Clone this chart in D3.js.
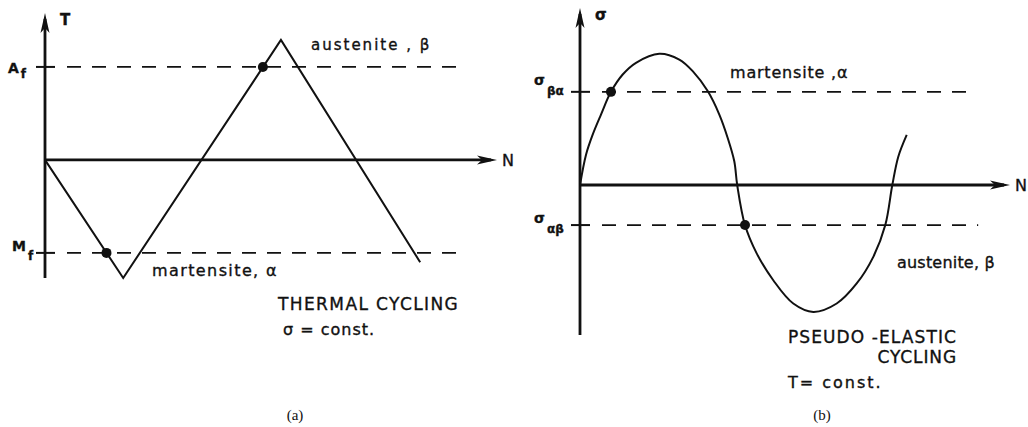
<!DOCTYPE html>
<html>
<head>
<meta charset="utf-8">
<script src="https://cdn.jsdelivr.net/npm/d3@7"></script>
<style>
  html, body { margin: 0; padding: 0; background: #fff; }
  svg { display: block; }
  .lbl { font-family: "DejaVu Sans", sans-serif; fill: #111; stroke: #111; stroke-width: 0.35px; }
  .cap { font-family: "Liberation Serif", serif; fill: #111; font-size: 15px; }
</style>
</head>
<body>
<div id="chart"></div>
<script>
// ---- (a) thermal cycling: temperature vs. number of cycles ----
const thermalN = [0, 1.73, 5.22, 8.3];
const thermalT = [0, -1.27, 1.29, -1.1];
const thermalLevelNames = ["A", "M"];
const thermalLevelSubs = ["f", "f"];
const thermalLevelValues = [1, -1];
const thermalLevelEnds = [9.28, 9.25];
const thermalDotsN = [1.36, 4.82];
const thermalDotsT = [-1, 1];

// ---- (b) pseudo-elastic cycling: stress vs. number of cycles ----
const stressN = [0, 0.14, 0.295, 0.488, 0.72, 0.993, 1.302, 1.844, 2.309, 2.621, 2.97, 3.24, 3.435,
                 3.588, 3.656, 3.837, 4.109, 4.495, 4.96, 5.426, 5.97, 6.435, 6.821, 7.1, 7.263, 7.402, 7.598];
const stressS = [0, 0.326, 0.541, 0.756, 1.0, 1.186, 1.312, 1.409, 1.347, 1.223, 1.008, 0.756, 0.505,
                 0.255, 0, -0.43, -0.734, -1.022, -1.272, -1.362, -1.272, -1.057, -0.771, -0.43, 0, 0.304, 0.538];
const stressLevelNames = ["σ", "σ"];
const stressLevelSubs = ["βα", "αβ"];
const stressLevelValues = [1, -0.43];
const stressLevelEnds = [9.07, 9.26];
const stressDotsN = [0.72, 3.837];
const stressDotsS = [1, -0.43];

const W = 1028, H = 427;
const svg = d3.select("#chart").append("svg").attr("width", W).attr("height", H);
const ink = "#111";

function arrow(g, x1, y1, x2, y2) {
  // filled narrow arrowhead at (x2, y2)
  const len = 20, hw = 4.5;
  const a = Math.atan2(y2 - y1, x2 - x1);
  const bx = x2 - len * Math.cos(a), by = y2 - len * Math.sin(a);
  const px = -Math.sin(a) * hw, py = Math.cos(a) * hw;
  g.append("path")
    .attr("d", `M${x2},${y2}L${bx + px},${by + py}L${bx + len * 0.25 * Math.cos(a)},${by + len * 0.25 * Math.sin(a)}L${bx - px},${by - py}Z`)
    .attr("fill", ink);
}

function panel(opt) {
  const g = svg.append("g");
  const x = d3.scaleLinear().domain([0, 10]).range(opt.xRange);
  const y = d3.scaleLinear().domain(opt.yDomain).range(opt.yRange);

  // vertical axis with arrow
  g.append("line").attr("x1", x(0)).attr("x2", x(0))
    .attr("y1", y(opt.yDomain[0])).attr("y2", y(opt.yDomain[1]) + 6)
    .attr("stroke", ink).attr("stroke-width", 2.8);
  arrow(g, x(0), y(0), x(0), y(opt.yDomain[1]));

  // horizontal axis with arrow
  g.append("line").attr("x1", x(0)).attr("x2", x(10) - 6)
    .attr("y1", y(0)).attr("y2", y(0))
    .attr("stroke", ink).attr("stroke-width", 2.8);
  arrow(g, x(0), y(0), x(10), y(0));

  // axis titles
  g.append("text").attr("class", "lbl").attr("x", x(0) + 15).attr("y", y(opt.yDomain[1]) + 12)
    .attr("font-size", 15).attr("font-weight", "bold").text(opt.yTitle);
  g.append("text").attr("class", "lbl").attr("x", x(10) + 5).attr("y", y(0) + 6)
    .attr("font-size", 16).text("N");

  // transformation levels: tick on the axis and dashed line
  opt.levelValues.forEach((v, i) => {
    const lay = opt.levelLayout[i];
    g.append("line").attr("x1", x(0) - 9).attr("x2", x(0) + 10)
      .attr("y1", y(v)).attr("y2", y(v))
      .attr("stroke", ink).attr("stroke-width", 2);
    g.append("line").attr("x1", x(0) + 22).attr("x2", x(opt.levelEnds[i]))
      .attr("y1", y(v)).attr("y2", y(v))
      .attr("stroke", ink).attr("stroke-width", 1.8)
      .attr("stroke-dasharray", "14,11");
    const t = g.append("text").attr("class", "lbl")
      .attr("x", x(0) - lay.off).attr("y", y(v) + lay.dy)
      .attr("font-size", 14).attr("font-weight", "bold");
    t.append("tspan").text(opt.levelNames[i]);
    t.append("tspan").attr("dy", lay.subDy).attr("dx", 2).attr("font-size", 12).text(opt.levelSubs[i]);
  });

  // cycling path
  g.append("path")
    .datum(opt.xs.map((v, i) => [v, opt.ys[i]]))
    .attr("fill", "none").attr("stroke", ink).attr("stroke-width", 2)
    .attr("stroke-linejoin", "miter")
    .attr("d", d3.line().x(d => x(d[0])).y(d => y(d[1])).curve(opt.curve));

  // transformation points
  g.selectAll("circle.dot").data(opt.dotsX.map((v, i) => [v, opt.dotsY[i]]))
    .join("circle").attr("class", "dot")
    .attr("cx", d => x(d[0])).attr("cy", d => y(d[1])).attr("r", 5).attr("fill", ink);

  // annotations
  opt.notes.forEach(n => {
    g.append("text").attr("class", "lbl")
      .attr("x", n.x).attr("y", n.y).attr("font-size", n.size)
      .attr("letter-spacing", n.ls).attr("text-anchor", n.anchor || "start")
      .text(n.text);
  });
  g.append("text").attr("class", "cap").attr("x", opt.capX).attr("y", 420)
    .attr("text-anchor", "middle").text(opt.caption);
}

panel({
  xRange: [45, 497], yDomain: [-1.27, 1.58], yRange: [278, 13],
  yTitle: "T",
  levelNames: thermalLevelNames, levelSubs: thermalLevelSubs,
  levelValues: thermalLevelValues, levelEnds: thermalLevelEnds,
  levelLayout: [{ off: 37, dy: 6, subDy: 5 }, { off: 33, dy: -2, subDy: 9 }],
  xs: thermalN, ys: thermalT, curve: d3.curveLinear,
  dotsX: thermalDotsN, dotsY: thermalDotsT,
  notes: [
    { text: "austenite , β", x: 311, y: 50, size: 15, ls: 2.0 },
    { text: "martensite, α", x: 152, y: 276, size: 16, ls: 1.4 },
    { text: "THERMAL CYCLING", x: 278, y: 310, size: 17, ls: 1.4 },
    { text: "σ = const.", x: 283, y: 335, size: 16, ls: 1.0 }
  ],
  capX: 295, caption: "(a)"
});

panel({
  xRange: [580, 1010], yDomain: [-1.61, 1.90], yRange: [335, 8],
  yTitle: "σ",
  levelNames: stressLevelNames, levelSubs: stressLevelSubs,
  levelValues: stressLevelValues, levelEnds: stressLevelEnds,
  levelLayout: [{ off: 46, dy: -7, subDy: 10 }, { off: 46, dy: -2, subDy: 10 }],
  xs: stressN, ys: stressS, curve: d3.curveCatmullRom.alpha(0.5),
  dotsX: stressDotsN, dotsY: stressDotsS,
  notes: [
    { text: "martensite ,α", x: 730, y: 78, size: 16, ls: 0.8 },
    { text: "austenite, β", x: 897, y: 268, size: 16, ls: 0.2 },
    { text: "PSEUDO -ELASTIC", x: 957, y: 343, size: 17, ls: 1.1, anchor: "end" },
    { text: "CYCLING", x: 957, y: 363, size: 17, ls: 0.9, anchor: "end" },
    { text: "T= const.", x: 788, y: 388, size: 16, ls: 2.0 }
  ],
  capX: 822, caption: "(b)"
});
</script>
</body>
</html>
